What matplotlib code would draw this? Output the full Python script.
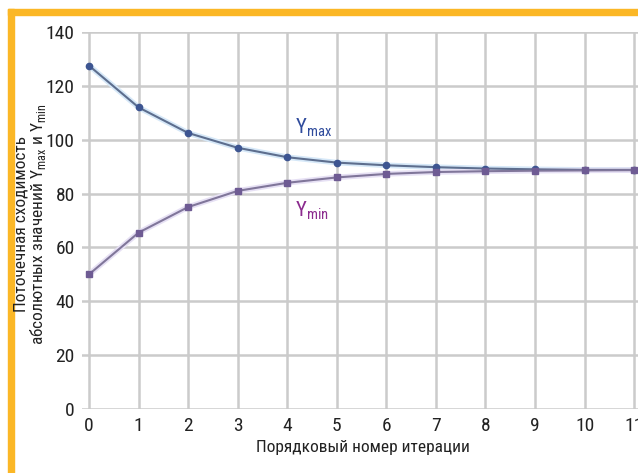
import matplotlib.pyplot as plt
from matplotlib import font_manager
from matplotlib.patches import Rectangle

# Iteration numbers and convergence values
iterations = [0, 1, 2, 3, 4, 5, 6, 7, 8, 9, 10, 11]
y_max = [127.5, 112, 102.5, 97, 93.5, 91.5, 90.5, 89.8, 89.3, 89.0, 88.8, 88.8]
y_min = [50, 65.5, 75, 81, 84, 86, 87.3, 88.0, 88.3, 88.5, 88.6, 88.7]
y_ticks = [0, 20, 40, 60, 80, 100, 120, 140]
x_tick_labels = ["0", "1", "2", "3", "4", "5", "6", "7", "8", "9", "10", "11"]


# pick a narrow font if there is one
def pick_font(names):
    for name in names:
        try:
            font_manager.findfont(name, fallback_to_default=False)
            return name
        except Exception:
            pass
    return "DejaVu Sans"


narrow = pick_font(["Liberation Sans Narrow", "Roboto Condensed",
                    "DejaVu Sans Condensed", "Liberation Sans"])
condensed = narrow != "Liberation Sans"
plt.rcParams["font.family"] = [narrow, "DejaVu Sans"]
if not condensed:
    plt.rcParams["font.stretch"] = "condensed"
plt.rcParams["mathtext.fontset"] = "custom"
plt.rcParams["mathtext.rm"] = narrow

tick_size = 14 if condensed else 12
label_size = 12.5 if condensed else 11
note_size = 15 if condensed else 13

fig = plt.figure(figsize=(6.38, 4.73), dpi=100)

# Orange frame (left and top)
fig.patches.append(Rectangle((8 / 638, 0), 6 / 638, 1 - 9 / 473,
                             transform=fig.transFigure, color="#fbb726", zorder=0))
fig.patches.append(Rectangle((8 / 638, 1 - 15 / 473), 1, 6 / 473,
                             transform=fig.transFigure, color="#fbb726", zorder=0))

ax = fig.add_axes([81.6 / 638, 1 - 409 / 473, 560 / 638, 377 / 473])
ax.set_xlim(-0.15, 11.15)
ax.set_ylim(0, 140)

for s in ax.spines.values():
    s.set_visible(False)

ax.set_xticks(iterations)
ax.set_xticklabels(x_tick_labels)
ax.set_yticks(y_ticks)
ax.grid(True, color="#cbcbcb", linewidth=1.8)
ax.set_axisbelow(True)
ax.tick_params(axis="both", length=0, labelsize=tick_size, colors="#222222", pad=6)
ax.tick_params(axis="y", pad=5)

# Light glow under the lines
ax.plot(iterations, y_max, color="#d6e8f8", linewidth=4, solid_capstyle="round", clip_on=False)
ax.plot(iterations, y_min, color="#e6e0f4", linewidth=4, solid_capstyle="round", clip_on=False)

ax.plot(iterations, y_max, color="#5d6e8e", linewidth=1.5, marker="o",
        markersize=4.5, markerfacecolor="#3d5591", markeredgecolor="#3d5591", clip_on=False)
ax.plot(iterations, y_min, color="#80769a", linewidth=1.5, marker="s",
        markersize=4.5, markerfacecolor="#6e5b93", markeredgecolor="#6e5b93", clip_on=False)

ax.text(4.15, 104.5, r"Y$_{\mathregular{max}}$", color="#2f4b9c", fontsize=note_size,
        ha="left", va="center")
ax.text(4.15, 73.5, r"Y$_{\mathregular{min}}$", color="#8b2b8e", fontsize=note_size,
        ha="left", va="center")

fig.text(363 / 638, 1 - 447 / 473, "Порядковый номер итерации",
         fontsize=label_size, ha="center", va="center", color="#222222")
fig.text(31 / 638, 1 - 224 / 473,
         "Поточечная сходимость\n"
         r"абсолютных значений Y$_{\mathregular{max}}$ и Y$_{\mathregular{min}}$",
         fontsize=label_size, ha="center", va="center", rotation=90,
         color="#222222", linespacing=1.0)

fig.savefig("out.png", dpi=100)
